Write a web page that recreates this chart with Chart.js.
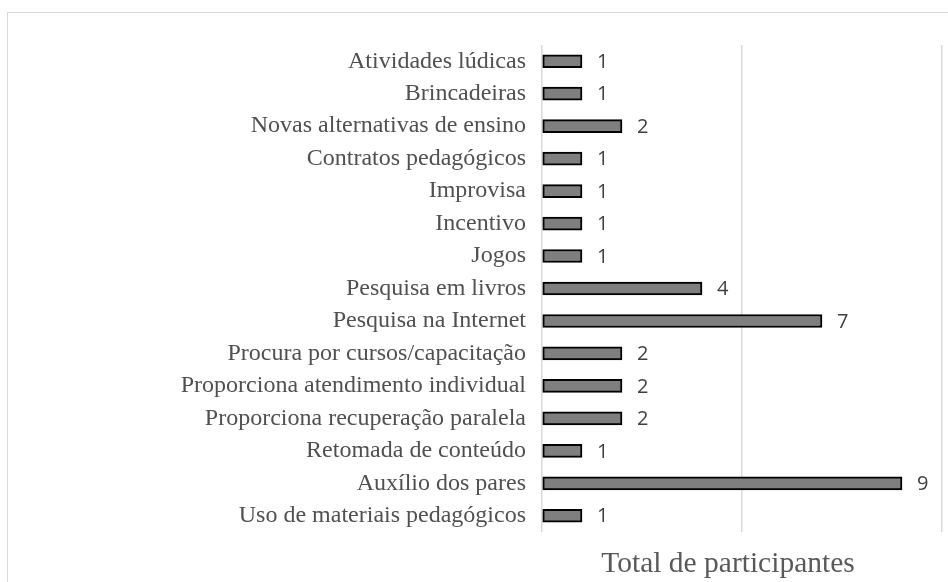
<!DOCTYPE html>
<html>
<head>
<meta charset="utf-8">
<script src="https://cdn.jsdelivr.net/npm/chart.js@4.4.1/dist/chart.umd.min.js"></script>
<style>
  html, body { margin: 0; padding: 0; background: #fff; overflow: hidden; }
  #frame { position: absolute; left: 7px; top: 12px; width: 1000px; height: 700px; border: 1px solid #d9d9d9; }
  #wrap { position: absolute; left: 0; top: 0; width: 948px; height: 582px; }
</style>
</head>
<body>
<div id="frame"></div>
<div id="wrap"><canvas id="chart"></canvas></div>
<script>
const categories = [
    "Atividades lúdicas",
    "Brincadeiras",
    "Novas alternativas de ensino",
    "Contratos pedagógicos",
    "Improvisa",
    "Incentivo",
    "Jogos",
    "Pesquisa em livros",
    "Pesquisa na Internet",
    "Procura por cursos/capacitação",
    "Proporciona atendimento individual",
    "Proporciona recuperação paralela",
    "Retomada de conteúdo",
    "Auxílio dos pares",
    "Uso de materiais pedagógicos"
];
const participants = [1, 1, 2, 1, 1, 1, 1, 4, 7, 2, 2, 2, 1, 9, 1];
const axisTitle = "Total de participantes";

// value labels at the end of each bar
const valueLabels = {
    id: "valueLabels",
    afterDatasetsDraw(chart) {
        const ctx = chart.ctx;
        const meta = chart.getDatasetMeta(0);
        ctx.save();
        ctx.font = '20px "Open Sans"';
        ctx.fillStyle = "#404040";
        ctx.textAlign = "left";
        ctx.textBaseline = "middle";
        meta.data.forEach((bar, i) => {
            ctx.fillText(String(participants[i]), bar.x + 15, bar.y + 1);
        });
        ctx.restore();
    }
};

// axis title under the plot (sits a bit left of the plot centre in the original)
const bottomTitle = {
    id: "bottomTitle",
    afterDraw(chart) {
        const ctx = chart.ctx;
        const area = chart.chartArea;
        ctx.save();
        ctx.font = '29.5px "Liberation Serif"';
        ctx.fillStyle = "#595959";
        ctx.textAlign = "center";
        ctx.textBaseline = "middle";
        ctx.fillText(axisTitle, (area.left + area.right) / 2 - 14, area.bottom + 32);
        ctx.restore();
    }
};

new Chart(document.getElementById("chart").getContext("2d"), {
    type: "bar",
    data: {
        labels: categories,
        datasets: [{
            data: participants,
            backgroundColor: "#7f7f7f",
            borderColor: "#000000",
            borderWidth: 2,
            borderSkipped: false,
            barThickness: 13
        }]
    },
    options: {
        indexAxis: "y",
        responsive: true,
        maintainAspectRatio: false,
        animation: false,
        layout: { padding: { left: 0, right: 6, top: 45, bottom: 0 } },
        plugins: { legend: { display: false }, tooltip: { enabled: false } },
        scales: {
            x: {
                min: 0,
                max: 10,
                ticks: { display: false, stepSize: 5 },
                grid: { color: "#d9d9d9", lineWidth: 1.5, drawTicks: false },
                border: { display: false },
                afterFit: s => { s.height = 50; }
            },
            y: {
                ticks: {
                    color: "#505050",
                    font: { family: '"Liberation Serif"', size: 24 },
                    padding: 16,
                    autoSkip: false
                },
                grid: { display: false, drawTicks: false },
                border: { display: false },
                afterFit: s => { s.width = 542; }
            }
        }
    },
    plugins: [valueLabels, bottomTitle]
});
</script>
</body>
</html>
